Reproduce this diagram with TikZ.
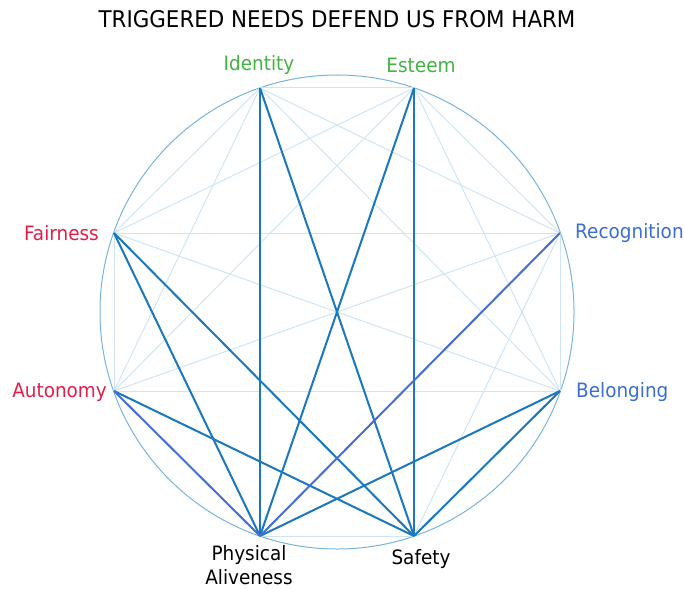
\documentclass[tikz,border=0pt]{standalone}
\usepackage{fontspec}
\setmainfont{DejaVu Sans}[FakeStretch=0.93]
\definecolor{faint}{RGB}{208,228,244}
\definecolor{ring}{RGB}{120,180,222}
\definecolor{dark}{RGB}{26,120,192}
\definecolor{royal}{RGB}{72,110,212}
\definecolor{lgreen}{RGB}{66,178,66}
\definecolor{lred}{RGB}{228,28,72}
\definecolor{lblue}{RGB}{58,110,212}
\tikzset{
  faintline/.style={draw=faint, line width=1pt},
  darkline/.style={draw=dark, line width=2pt},
  royalline/.style={draw=royal, line width=2pt},
  lab/.style={inner sep=0pt, font=\fontsize{19.8}{23}\selectfont},
}
\begin{document}
\begin{tikzpicture}[x=1pt,y=-1pt]
\useasboundingbox (0,0) rectangle (684,588);
\node[inner sep=0pt, font=\fontsize{23}{27}\selectfont] (title) at (337,19) {TRIGGERED NEEDS DEFEND US FROM HARM};
\coordinate (O) at (337,312);
\draw[ring, line width=1pt] (O) circle[radius=237];
\coordinate (I) at (260,88);
\coordinate (E) at (414,88);
\coordinate (R) at (560,233);
\coordinate (B) at (560,391);
\coordinate (S) at (414,536);
\coordinate (P) at (260,536);
\coordinate (A) at (114,391);
\coordinate (F) at (114,233);
\foreach \u/\v in {I/E,I/R,I/B,I/S,I/P,I/A,I/F,E/R,E/B,E/S,E/P,E/A,E/F,R/B,R/S,R/P,R/A,R/F,B/S,B/P,B/A,B/F,S/P,S/A,S/F,P/A,P/F,A/F}
  \draw[faintline] (\u) -- (\v);
\foreach \u/\v in {I/P,I/S,E/S,E/P,F/P,F/S,A/S,B/P,B/S}
  \draw[darkline] (\u) -- (\v);
\foreach \u/\v in {R/P,A/P}
  \draw[royalline] (\u) -- (\v);
\node[lab, text=lgreen] (nI) at (259,65) {Identity};
\node[lab, text=lgreen] (nE) at (421,65) {Esteem};
\node[lab, text=lred, anchor=east] (nF) at (99,233) {Fairness};
\node[lab, text=lred, anchor=east] (nA) at (107,392) {Autonomy};
\node[lab, text=lblue, anchor=west] (nR) at (575,233) {Recognition};
\node[lab, text=lblue, anchor=west] (nB) at (576,392) {Belonging};
\node[lab, align=center, font=\fontsize{19.8}{24.5}\selectfont] (nP) at (249,565) {Physical\\Aliveness};
\node[lab] (nS) at (421,559) {Safety};
\end{tikzpicture}
\end{document}
